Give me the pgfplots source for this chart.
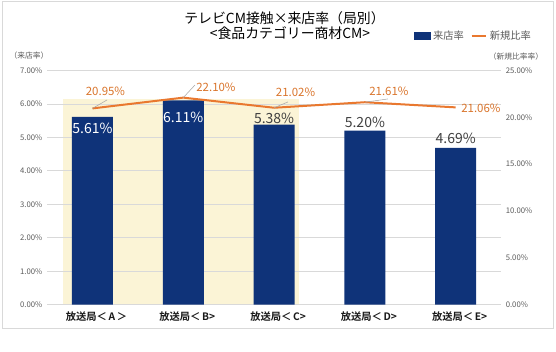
\documentclass[border=0pt]{standalone}
\usepackage{pgfplots}
\pgfplotsset{compat=1.18}
\usepackage{fontspec}
\setmainfont{Noto Sans CJK JP}[BoldFont={Noto Sans CJK JP Bold}]
\definecolor{barblue}{HTML}{0F3379}
\definecolor{lineorange}{HTML}{E9782F}
\definecolor{lblorange}{HTML}{D9742B}
\definecolor{hl}{HTML}{FBF4D6}
\definecolor{gridc}{HTML}{D9D9D9}
\definecolor{tickc}{HTML}{595959}
\definecolor{lblgray}{HTML}{404040}
\pgfplotsset{
  common/.style={
    scale only axis, width=340.5pt, height=175.65pt,
    at={(35.3pt,-228.5pt)}, anchor=south west,
    xmin=-0.5, xmax=4.5,
    axis line style={draw=none},
    major tick length=0pt,
  }
}
\begin{document}
\begin{tikzpicture}
\path (0,0) rectangle (417pt,-264pt);
\draw[gridc, line width=0.75pt] (1.5pt,-1.5pt) rectangle (414.75pt,-246pt);
\node[font=\fontsize{10.4}{12}\selectfont, text=black] at (284.5*0.75pt,-18*0.75pt) {テレビCM接触×来店率（局別）};
\node[font=\fontsize{10.4}{12}\selectfont, text=black] at (290*0.75pt,-33*0.75pt) {<食品カテゴリー商材CM>};
\node[font=\fontsize{5.8}{7}\selectfont, text=tickc] at (29*0.75pt,-56*0.75pt) {（来店率）};
\node[font=\fontsize{5.8}{7}\selectfont, text=tickc] at (516*0.75pt,-57*0.75pt) {（新規比率率）};
\begin{axis}[common, set layers,
  ymin=0, ymax=7, ytick={0,1,...,7},
  ymajorgrids, grid style={gridc, line width=0.6pt},
  xtick={0,1,2,3,4},
  xticklabels={放送局＜\,A\,＞,放送局＜\,B>,放送局＜\,C>,放送局＜\,D>,放送局＜\,E>},
  xticklabel style={font=\bfseries\fontsize{7.7}{9}\selectfont, text=black!90, yshift=-1.5pt, xshift=3pt},
  yticklabel style={font=\fontsize{5.8}{7}\selectfont, text=tickc},
  yticklabel={\pgfmathprintnumber[fixed,fixed zerofill,precision=2,assume math mode=true]{\tick}\%},
  ybar, bar width=30.75pt,
]
\begin{pgfonlayer}{axis background}
\fill[hl] (axis cs:-0.325,0) rectangle (axis cs:2.274,6.15);
\end{pgfonlayer}
\addplot[fill=barblue, draw=none] coordinates {(0,5.61) (1,6.11) (2,5.38) (3,5.20) (4,4.69)};
\node[font=\fontsize{10.5}{12}\selectfont, text=white] at (axis cs:0,5.28) {5.61\%};
\node[font=\fontsize{10.5}{12}\selectfont, text=white] at (axis cs:1,5.61) {6.11\%};
\node[font=\fontsize{10.5}{12}\selectfont, text=lblgray] at (axis cs:2,5.58) {5.38\%};
\node[font=\fontsize{10.5}{12}\selectfont, text=lblgray] at (axis cs:3,5.46) {5.20\%};
\node[font=\fontsize{10.5}{12}\selectfont, text=lblgray] at (axis cs:4,4.98) {4.69\%};
\end{axis}
\begin{axis}[common,
  ymin=0, ymax=25, ytick={0,5,...,25},
  xtick=\empty,
  yticklabel pos=right,
  yticklabel style={font=\fontsize{5.8}{7}\selectfont, text=tickc},
  yticklabel={\pgfmathprintnumber[fixed,fixed zerofill,precision=2,assume math mode=true]{\tick}\%},
  legend style={at={(1.0724,1.147)}, anchor=east, draw=none, fill=none,
    font=\fontsize{7.7}{9}\selectfont, text=tickc, inner sep=0pt,
    /tikz/every even column/.append style={column sep=3pt}},
  legend columns=2,
]
\addlegendimage{legend image code/.code={\fill[barblue] (0pt,-2.6pt) rectangle (12pt,2.6pt);}}
\addlegendentry{来店率}
\addplot[lineorange, line width=1.5pt, mark=none,
  legend image code/.code={\draw[lineorange, line width=1.5pt] (0pt,0pt) -- (11pt,0pt);}]
  coordinates {(0,20.95) (1,22.10) (2,21.02) (3,21.61) (4,21.06)};
\addlegendentry{新規比率}
\draw[gray!70, line width=0.4pt] (axis cs:0,20.95) -- (axis cs:0.16,21.85);
\draw[gray!70, line width=0.4pt] (axis cs:1,22.10) -- (axis cs:1.129,23.45);
\draw[gray!70, line width=0.4pt] (axis cs:2,21.02) -- (axis cs:2.153,21.64);
\draw[gray!70, line width=0.4pt] (axis cs:3,21.61) -- (axis cs:3.254,21.96);
\node[font=\fontsize{8.6}{10}\selectfont, text=lblorange] at (axis cs:0.143,22.81) {20.95\%};
\node[font=\fontsize{8.6}{10}\selectfont, text=lblorange] at (axis cs:1.36,23.24) {22.10\%};
\node[font=\fontsize{8.6}{10}\selectfont, text=lblorange] at (axis cs:2.236,22.71) {21.02\%};
\node[font=\fontsize{8.6}{10}\selectfont, text=lblorange] at (axis cs:3.265,22.81) {21.61\%};
\node[font=\fontsize{8.6}{10}\selectfont, text=lblorange] at (axis cs:4.278,21.0) {21.06\%};
\end{axis}
\end{tikzpicture}
\end{document}
